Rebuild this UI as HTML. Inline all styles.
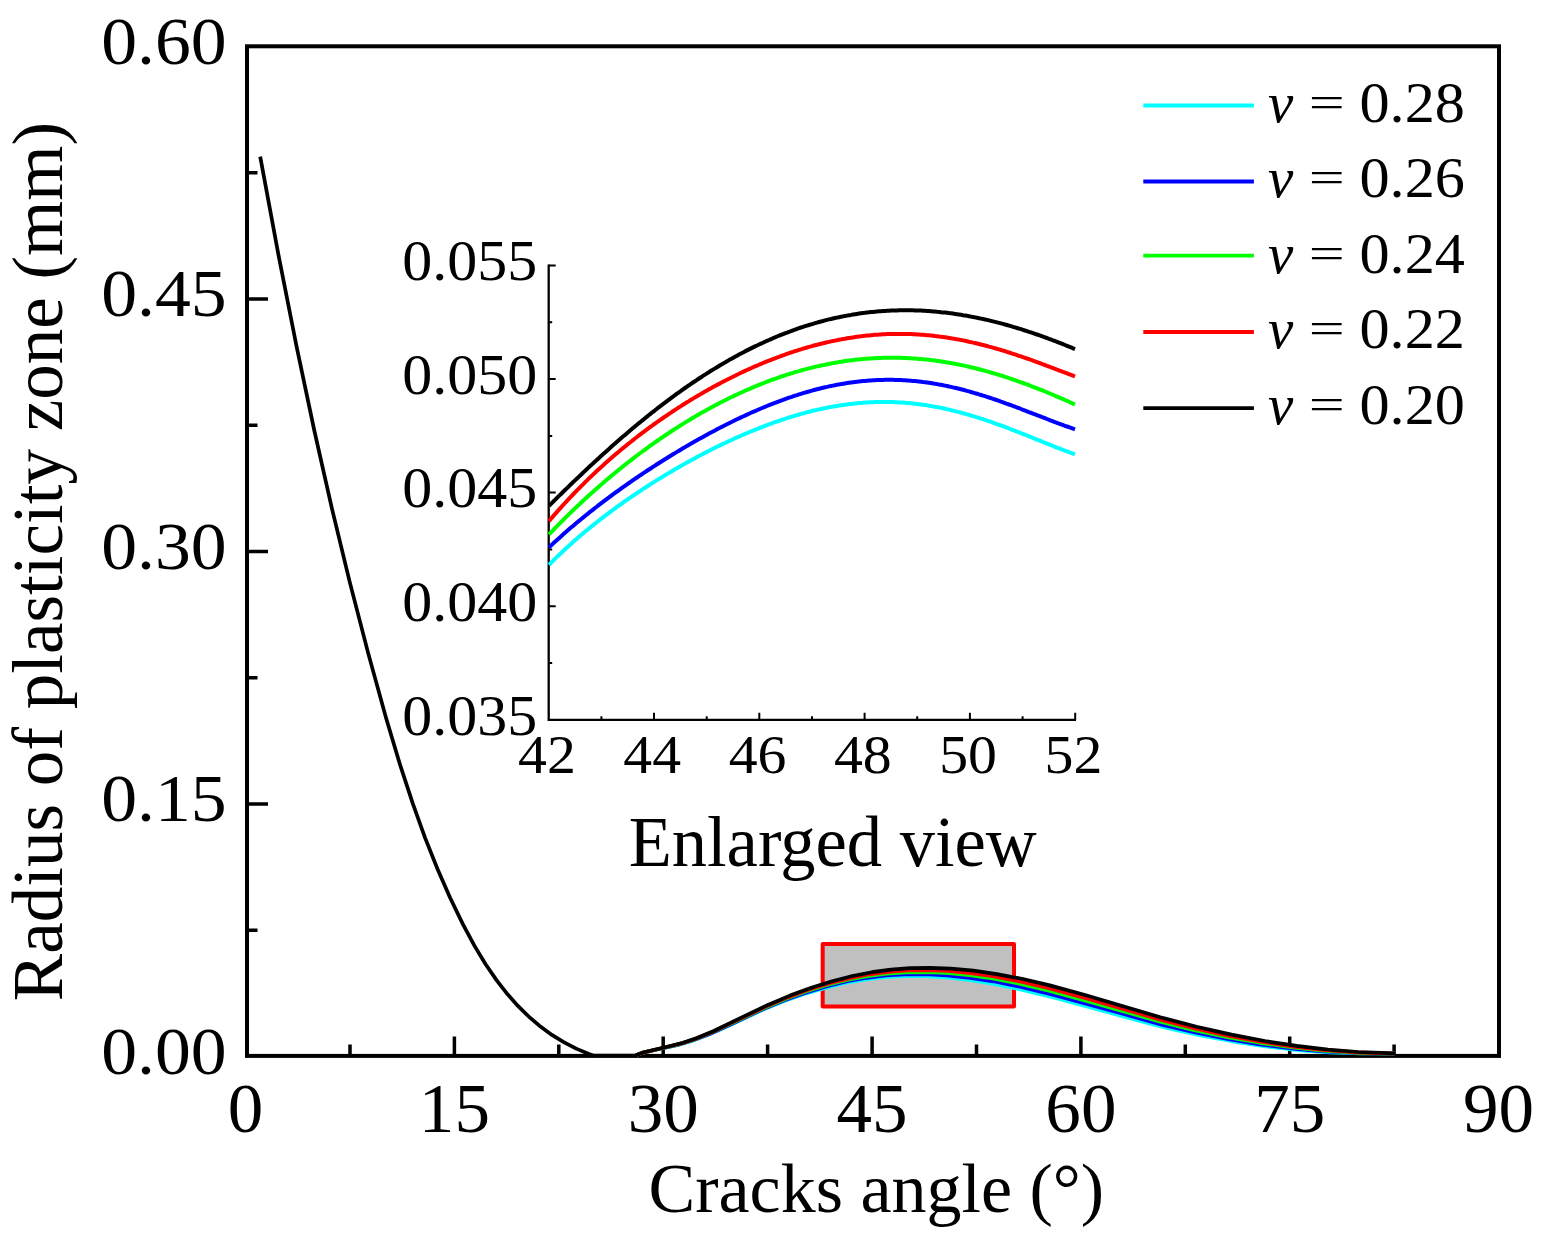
<!DOCTYPE html>
<html><head><meta charset="utf-8"><title>Radius of plasticity zone vs cracks angle</title>
<style>html,body{margin:0;padding:0;background:#fff;overflow:hidden}svg{display:block}</style>
</head><body>
<svg width="1542" height="1241" viewBox="0 0 1542 1241">
<rect width="1542" height="1241" fill="#fff"/>
<g fill="none" stroke="#000" stroke-width="4" stroke-linecap="square">
<rect x="247" y="46.3" width="1252" height="1009.6"/>
</g>
<path d="M350.0 1056.5V1044.5 M454.4 1056.5V1036.5 M558.8 1056.5V1044.5 M663.2 1056.5V1036.5 M767.6 1056.5V1044.5 M872.1 1056.5V1036.5 M976.5 1056.5V1044.5 M1080.9 1056.5V1036.5 M1185.3 1056.5V1044.5 M1289.7 1056.5V1036.5 M1394.1 1056.5V1044.5 M247 930.2H257.5 M247 804.0H268.0 M247 677.8H257.5 M247 551.5H268.0 M247 425.2H257.5 M247 299.0H268.0 M247 172.8H257.5" stroke="#000" stroke-width="3.5" fill="none"/>
<rect x="822.7" y="943.9" width="191.3" height="62.5" fill="#c0c0c0" stroke="#ff0000" stroke-width="4" stroke-linejoin="round"/>
<path d="M635.9 1055.3 L643.2 1052.6 L655.8 1049.7 L678.0 1045.0 L692.1 1040.9 L708.2 1034.8 L730.3 1025.0 L763.3 1009.6 L784.2 1001.1 L805.5 993.6 L826.3 987.6 L846.5 982.8 L866.0 979.4 L884.9 977.2 L903.9 976.2 L924.7 976.2 L945.6 977.4 L969.1 980.0 L992.5 983.6 L1019.2 989.1 L1056.5 998.1 L1137.7 1020.4 L1168.7 1028.5 L1201.7 1035.7 L1234.9 1041.8 L1267.5 1046.6 L1300.3 1050.3 L1329.7 1052.5 L1361.0 1053.5 L1390.6 1053.4 L1395.0 1053.3" fill="none" stroke="#00ffff" stroke-width="3.7" stroke-linejoin="round"/>
<path d="M635.9 1055.3 L643.2 1052.6 L656.7 1049.5 L678.8 1044.6 L692.9 1040.3 L709.0 1034.2 L731.1 1024.2 L763.3 1009.0 L785.0 1000.0 L806.3 992.4 L827.1 986.2 L847.3 981.3 L866.9 977.8 L885.8 975.5 L904.8 974.3 L925.6 974.2 L946.5 975.3 L970.0 977.8 L993.4 981.3 L1020.1 986.7 L1054.8 995.1 L1121.0 1013.3 L1162.8 1024.9 L1194.1 1032.2 L1227.2 1038.9 L1259.8 1044.3 L1293.3 1048.6 L1322.8 1051.3 L1354.0 1053.0 L1383.6 1053.5 L1395.0 1053.3" fill="none" stroke="#0000ff" stroke-width="3.7" stroke-linejoin="round"/>
<path d="M635.9 1055.3 L643.2 1052.6 L658.4 1049.0 L679.6 1044.1 L693.7 1039.8 L709.8 1033.4 L732.7 1022.9 L764.1 1008.0 L785.9 998.8 L807.2 991.1 L827.9 984.8 L848.2 979.7 L867.7 976.1 L886.6 973.6 L905.6 972.3 L925.6 972.1 L946.5 973.0 L969.1 975.1 L992.5 978.5 L1018.3 983.5 L1049.8 990.9 L1089.2 1001.7 L1161.2 1022.0 L1193.2 1029.9 L1227.2 1037.1 L1259.8 1042.8 L1292.5 1047.4 L1322.8 1050.6 L1353.2 1052.6 L1382.8 1053.3 L1395.0 1053.3" fill="none" stroke="#00ff00" stroke-width="3.7" stroke-linejoin="round"/>
<path d="M635.9 1055.3 L643.2 1052.6 L659.3 1048.7 L680.5 1043.7 L694.5 1039.2 L710.6 1032.8 L734.2 1021.7 L764.9 1007.0 L787.5 997.4 L808.8 989.6 L829.6 983.2 L849.9 978.1 L869.4 974.3 L888.3 971.8 L907.4 970.4 L927.3 970.1 L948.2 971.0 L970.9 973.1 L994.3 976.4 L1020.1 981.4 L1049.8 988.4 L1087.6 998.7 L1161.2 1019.9 L1194.9 1028.4 L1228.9 1035.9 L1262.3 1042.0 L1295.1 1046.8 L1325.4 1050.1 L1355.8 1052.3 L1385.4 1053.3 L1395.0 1053.3" fill="none" stroke="#ff0000" stroke-width="3.7" stroke-linejoin="round"/>
<path d="M260.2 156.6 L278.6 255.6 L296.5 346.2 L314.3 430.5 L331.9 508.4 L349.7 581.9 L368.1 652.9 L386.0 717.7 L400.1 764.9 L413.0 804.2 L425.0 837.6 L437.4 868.7 L450.1 897.7 L463.1 924.6 L474.4 945.6 L485.6 964.2 L496.7 980.4 L507.6 994.3 L517.9 1005.9 L529.0 1016.8 L540.8 1026.8 L551.9 1034.9 L563.7 1042.1 L576.2 1048.6 L589.5 1054.2 L593.4 1055.5 L635.9 1055.3 L644.0 1052.3 L666.1 1047.0 L683.0 1042.7 L697.0 1038.0 L713.8 1031.0 L741.3 1017.7 L767.3 1005.2 L789.9 995.6 L811.3 987.7 L832.1 981.2 L852.4 976.0 L872.0 972.2 L890.9 969.6 L910.0 968.2 L930.0 967.9 L950.8 968.7 L973.5 970.7 L996.8 974.1 L1021.8 978.8 L1049.8 985.4 L1085.9 995.3 L1160.3 1017.2 L1196.6 1026.7 L1231.5 1034.6 L1264.9 1041.0 L1296.8 1045.9 L1328.0 1049.6 L1358.4 1052.0 L1388.0 1053.2 L1395.0 1053.3" fill="none" stroke="#000000" stroke-width="3.7" stroke-linejoin="round"/>
<path d="M548.7 264.5V719.8H1076.0" fill="none" stroke="#000" stroke-width="2.3"/>
<path d="M601.4 719.8V716.3 M654.0 719.8V712.8 M706.7 719.8V716.3 M759.3 719.8V712.8 M812.0 719.8V716.3 M864.6 719.8V712.8 M917.2 719.8V716.3 M969.9 719.8V712.8 M1022.6 719.8V716.3 M1075.2 719.8V712.8 M548.7 663.0H552.2 M548.7 606.2H555.7 M548.7 549.4H552.2 M548.7 492.6H555.7 M548.7 435.9H552.2 M548.7 379.1H555.7 M548.7 322.3H552.2 M548.7 265.5H555.7" stroke="#000" stroke-width="2" fill="none"/>
<path d="M549.0 564.8 L551.0 562.8 L553.0 560.8 L555.0 558.8 L557.0 556.9 L559.0 555.0 L561.0 553.1 L563.0 551.2 L565.0 549.3 L567.0 547.5 L569.0 545.7 L571.0 543.9 L573.0 542.1 L575.0 540.3 L577.0 538.6 L579.0 536.8 L581.0 535.1 L583.0 533.4 L585.0 531.8 L587.0 530.1 L589.0 528.5 L591.0 526.8 L593.0 525.2 L595.0 523.6 L597.0 522.0 L599.0 520.5 L601.0 518.9 L603.0 517.4 L605.0 515.8 L607.0 514.3 L609.0 512.8 L611.0 511.3 L613.0 509.8 L615.0 508.4 L617.0 506.9 L619.0 505.5 L621.0 504.1 L623.0 502.6 L625.0 501.2 L627.0 499.8 L629.0 498.4 L631.0 497.1 L633.0 495.7 L635.0 494.4 L637.0 493.0 L639.0 491.7 L641.0 490.4 L643.0 489.1 L645.0 487.7 L647.0 486.5 L649.0 485.2 L651.0 483.9 L653.0 482.6 L655.0 481.4 L657.0 480.1 L659.0 478.9 L661.0 477.7 L663.0 476.5 L665.0 475.3 L667.0 474.1 L669.0 472.9 L671.0 471.7 L673.0 470.5 L675.0 469.3 L677.0 468.2 L679.0 467.0 L681.0 465.9 L683.0 464.8 L685.0 463.6 L687.0 462.5 L689.0 461.4 L691.0 460.3 L693.0 459.2 L695.0 458.2 L697.0 457.1 L699.0 456.0 L701.0 455.0 L703.0 453.9 L705.0 452.9 L707.0 451.9 L709.0 450.8 L711.0 449.8 L713.0 448.8 L715.0 447.8 L717.0 446.8 L719.0 445.9 L721.0 444.9 L723.0 443.9 L725.0 443.0 L727.0 442.0 L729.0 441.1 L731.0 440.2 L733.0 439.2 L735.0 438.3 L737.0 437.4 L739.0 436.6 L741.0 435.7 L743.0 434.8 L745.0 433.9 L747.0 433.1 L749.0 432.2 L751.0 431.4 L753.0 430.6 L755.0 429.8 L757.0 429.0 L759.0 428.2 L761.0 427.4 L763.0 426.6 L765.0 425.9 L767.0 425.1 L769.0 424.4 L771.0 423.6 L773.0 422.9 L775.0 422.2 L777.0 421.5 L779.0 420.8 L781.0 420.1 L783.0 419.5 L785.0 418.8 L787.0 418.2 L789.0 417.5 L791.0 416.9 L793.0 416.3 L795.0 415.7 L797.0 415.1 L799.0 414.5 L801.0 413.9 L803.0 413.4 L805.0 412.9 L807.0 412.3 L809.0 411.8 L811.0 411.3 L813.0 410.8 L815.0 410.3 L817.0 409.9 L819.0 409.4 L821.0 409.0 L823.0 408.5 L825.0 408.1 L827.0 407.7 L829.0 407.3 L831.0 406.9 L833.0 406.6 L835.0 406.2 L837.0 405.9 L839.0 405.6 L841.0 405.2 L843.0 404.9 L845.0 404.7 L847.0 404.4 L849.0 404.1 L851.0 403.9 L853.0 403.7 L855.0 403.5 L857.0 403.3 L859.0 403.1 L861.0 402.9 L863.0 402.7 L865.0 402.6 L867.0 402.5 L869.0 402.3 L871.0 402.2 L873.0 402.2 L875.0 402.1 L877.0 402.0 L879.0 402.0 L881.0 402.0 L883.0 401.9 L885.0 402.0 L887.0 402.0 L889.0 402.0 L891.0 402.0 L893.0 402.1 L895.0 402.2 L897.0 402.3 L899.0 402.4 L901.0 402.5 L903.0 402.6 L905.0 402.8 L907.0 402.9 L909.0 403.1 L911.0 403.3 L913.0 403.5 L915.0 403.7 L917.0 404.0 L919.0 404.2 L921.0 404.5 L923.0 404.8 L925.0 405.0 L927.0 405.3 L929.0 405.7 L931.0 406.0 L933.0 406.4 L935.0 406.7 L937.0 407.1 L939.0 407.5 L941.0 407.9 L943.0 408.3 L945.0 408.7 L947.0 409.2 L949.0 409.6 L951.0 410.1 L953.0 410.6 L955.0 411.1 L957.0 411.6 L959.0 412.1 L961.0 412.6 L963.0 413.2 L965.0 413.7 L967.0 414.3 L969.0 414.9 L971.0 415.5 L973.0 416.1 L975.0 416.7 L977.0 417.3 L979.0 417.9 L981.0 418.6 L983.0 419.2 L985.0 419.9 L987.0 420.6 L989.0 421.2 L991.0 421.9 L993.0 422.6 L995.0 423.3 L997.0 424.1 L999.0 424.8 L1001.0 425.5 L1003.0 426.2 L1005.0 427.0 L1007.0 427.7 L1009.0 428.5 L1011.0 429.3 L1013.0 430.0 L1015.0 430.8 L1017.0 431.6 L1019.0 432.4 L1021.0 433.2 L1023.0 434.0 L1025.0 434.7 L1027.0 435.5 L1029.0 436.3 L1031.0 437.1 L1033.0 438.0 L1035.0 438.8 L1037.0 439.6 L1039.0 440.4 L1041.0 441.2 L1043.0 442.0 L1045.0 442.8 L1047.0 443.6 L1049.0 444.4 L1051.0 445.2 L1053.0 446.0 L1055.0 446.8 L1057.0 447.6 L1059.0 448.3 L1061.0 449.1 L1063.0 449.9 L1065.0 450.6 L1067.0 451.4 L1069.0 452.1 L1071.0 452.9 L1073.0 453.6 L1075.0 454.3" fill="none" stroke="#00ffff" stroke-width="4" stroke-linejoin="round"/>
<path d="M549.0 547.4 L551.0 545.5 L553.0 543.6 L555.0 541.8 L557.0 540.0 L559.0 538.2 L561.0 536.4 L563.0 534.6 L565.0 532.8 L567.0 531.1 L569.0 529.3 L571.0 527.6 L573.0 525.9 L575.0 524.2 L577.0 522.5 L579.0 520.9 L581.0 519.2 L583.0 517.6 L585.0 516.0 L587.0 514.4 L589.0 512.7 L591.0 511.2 L593.0 509.6 L595.0 508.0 L597.0 506.5 L599.0 504.9 L601.0 503.4 L603.0 501.9 L605.0 500.4 L607.0 498.9 L609.0 497.4 L611.0 495.9 L613.0 494.4 L615.0 492.9 L617.0 491.5 L619.0 490.1 L621.0 488.6 L623.0 487.2 L625.0 485.8 L627.0 484.4 L629.0 483.0 L631.0 481.6 L633.0 480.2 L635.0 478.8 L637.0 477.5 L639.0 476.1 L641.0 474.8 L643.0 473.4 L645.0 472.1 L647.0 470.8 L649.0 469.5 L651.0 468.2 L653.0 466.9 L655.0 465.6 L657.0 464.3 L659.0 463.0 L661.0 461.7 L663.0 460.5 L665.0 459.2 L667.0 458.0 L669.0 456.7 L671.0 455.5 L673.0 454.3 L675.0 453.1 L677.0 451.9 L679.0 450.7 L681.0 449.5 L683.0 448.3 L685.0 447.1 L687.0 445.9 L689.0 444.8 L691.0 443.6 L693.0 442.5 L695.0 441.3 L697.0 440.2 L699.0 439.1 L701.0 438.0 L703.0 436.9 L705.0 435.8 L707.0 434.7 L709.0 433.6 L711.0 432.5 L713.0 431.5 L715.0 430.4 L717.0 429.3 L719.0 428.3 L721.0 427.3 L723.0 426.2 L725.0 425.2 L727.0 424.2 L729.0 423.2 L731.0 422.2 L733.0 421.3 L735.0 420.3 L737.0 419.3 L739.0 418.4 L741.0 417.4 L743.0 416.5 L745.0 415.6 L747.0 414.6 L749.0 413.7 L751.0 412.8 L753.0 411.9 L755.0 411.1 L757.0 410.2 L759.0 409.3 L761.0 408.5 L763.0 407.7 L765.0 406.8 L767.0 406.0 L769.0 405.2 L771.0 404.4 L773.0 403.6 L775.0 402.9 L777.0 402.1 L779.0 401.3 L781.0 400.6 L783.0 399.9 L785.0 399.1 L787.0 398.4 L789.0 397.7 L791.0 397.1 L793.0 396.4 L795.0 395.7 L797.0 395.1 L799.0 394.4 L801.0 393.8 L803.0 393.2 L805.0 392.6 L807.0 392.0 L809.0 391.5 L811.0 390.9 L813.0 390.3 L815.0 389.8 L817.0 389.3 L819.0 388.8 L821.0 388.3 L823.0 387.8 L825.0 387.3 L827.0 386.9 L829.0 386.4 L831.0 386.0 L833.0 385.6 L835.0 385.2 L837.0 384.8 L839.0 384.4 L841.0 384.1 L843.0 383.7 L845.0 383.4 L847.0 383.1 L849.0 382.8 L851.0 382.5 L853.0 382.2 L855.0 381.9 L857.0 381.7 L859.0 381.5 L861.0 381.3 L863.0 381.1 L865.0 380.9 L867.0 380.7 L869.0 380.5 L871.0 380.4 L873.0 380.3 L875.0 380.2 L877.0 380.1 L879.0 380.0 L881.0 379.9 L883.0 379.9 L885.0 379.8 L887.0 379.8 L889.0 379.8 L891.0 379.8 L893.0 379.8 L895.0 379.9 L897.0 379.9 L899.0 380.0 L901.0 380.1 L903.0 380.2 L905.0 380.3 L907.0 380.4 L909.0 380.6 L911.0 380.7 L913.0 380.9 L915.0 381.1 L917.0 381.3 L919.0 381.5 L921.0 381.7 L923.0 382.0 L925.0 382.2 L927.0 382.5 L929.0 382.8 L931.0 383.1 L933.0 383.4 L935.0 383.8 L937.0 384.1 L939.0 384.5 L941.0 384.8 L943.0 385.2 L945.0 385.6 L947.0 386.0 L949.0 386.5 L951.0 386.9 L953.0 387.4 L955.0 387.8 L957.0 388.3 L959.0 388.8 L961.0 389.3 L963.0 389.8 L965.0 390.3 L967.0 390.9 L969.0 391.4 L971.0 392.0 L973.0 392.6 L975.0 393.2 L977.0 393.7 L979.0 394.4 L981.0 395.0 L983.0 395.6 L985.0 396.2 L987.0 396.9 L989.0 397.5 L991.0 398.2 L993.0 398.9 L995.0 399.5 L997.0 400.2 L999.0 400.9 L1001.0 401.6 L1003.0 402.3 L1005.0 403.1 L1007.0 403.8 L1009.0 404.5 L1011.0 405.2 L1013.0 406.0 L1015.0 406.7 L1017.0 407.5 L1019.0 408.2 L1021.0 409.0 L1023.0 409.8 L1025.0 410.5 L1027.0 411.3 L1029.0 412.1 L1031.0 412.8 L1033.0 413.6 L1035.0 414.4 L1037.0 415.2 L1039.0 415.9 L1041.0 416.7 L1043.0 417.5 L1045.0 418.2 L1047.0 419.0 L1049.0 419.8 L1051.0 420.6 L1053.0 421.3 L1055.0 422.1 L1057.0 422.8 L1059.0 423.6 L1061.0 424.3 L1063.0 425.0 L1065.0 425.8 L1067.0 426.5 L1069.0 427.2 L1071.0 427.9 L1073.0 428.6 L1075.0 429.3" fill="none" stroke="#0000ff" stroke-width="4" stroke-linejoin="round"/>
<path d="M549.0 534.4 L551.0 532.3 L553.0 530.3 L555.0 528.2 L557.0 526.1 L559.0 524.1 L561.0 522.1 L563.0 520.1 L565.0 518.1 L567.0 516.1 L569.0 514.2 L571.0 512.2 L573.0 510.3 L575.0 508.4 L577.0 506.5 L579.0 504.6 L581.0 502.7 L583.0 500.8 L585.0 499.0 L587.0 497.2 L589.0 495.3 L591.0 493.5 L593.0 491.7 L595.0 490.0 L597.0 488.2 L599.0 486.4 L601.0 484.7 L603.0 483.0 L605.0 481.2 L607.0 479.5 L609.0 477.9 L611.0 476.2 L613.0 474.5 L615.0 472.9 L617.0 471.2 L619.0 469.6 L621.0 468.0 L623.0 466.4 L625.0 464.8 L627.0 463.2 L629.0 461.7 L631.0 460.1 L633.0 458.6 L635.0 457.0 L637.0 455.5 L639.0 454.0 L641.0 452.5 L643.0 451.0 L645.0 449.6 L647.0 448.1 L649.0 446.7 L651.0 445.2 L653.0 443.8 L655.0 442.4 L657.0 441.0 L659.0 439.6 L661.0 438.2 L663.0 436.9 L665.0 435.5 L667.0 434.2 L669.0 432.9 L671.0 431.5 L673.0 430.2 L675.0 428.9 L677.0 427.7 L679.0 426.4 L681.0 425.1 L683.0 423.9 L685.0 422.6 L687.0 421.4 L689.0 420.2 L691.0 419.0 L693.0 417.8 L695.0 416.6 L697.0 415.5 L699.0 414.3 L701.0 413.1 L703.0 412.0 L705.0 410.9 L707.0 409.8 L709.0 408.7 L711.0 407.6 L713.0 406.5 L715.0 405.4 L717.0 404.4 L719.0 403.3 L721.0 402.3 L723.0 401.3 L725.0 400.3 L727.0 399.3 L729.0 398.3 L731.0 397.3 L733.0 396.4 L735.0 395.4 L737.0 394.5 L739.0 393.5 L741.0 392.6 L743.0 391.7 L745.0 390.8 L747.0 389.9 L749.0 389.1 L751.0 388.2 L753.0 387.4 L755.0 386.5 L757.0 385.7 L759.0 384.9 L761.0 384.1 L763.0 383.3 L765.0 382.5 L767.0 381.7 L769.0 381.0 L771.0 380.2 L773.0 379.5 L775.0 378.8 L777.0 378.1 L779.0 377.4 L781.0 376.7 L783.0 376.0 L785.0 375.4 L787.0 374.7 L789.0 374.1 L791.0 373.4 L793.0 372.8 L795.0 372.2 L797.0 371.6 L799.0 371.1 L801.0 370.5 L803.0 369.9 L805.0 369.4 L807.0 368.9 L809.0 368.4 L811.0 367.9 L813.0 367.4 L815.0 366.9 L817.0 366.4 L819.0 366.0 L821.0 365.5 L823.0 365.1 L825.0 364.7 L827.0 364.2 L829.0 363.9 L831.0 363.5 L833.0 363.1 L835.0 362.7 L837.0 362.4 L839.0 362.1 L841.0 361.7 L843.0 361.4 L845.0 361.1 L847.0 360.8 L849.0 360.6 L851.0 360.3 L853.0 360.1 L855.0 359.8 L857.0 359.6 L859.0 359.4 L861.0 359.2 L863.0 359.0 L865.0 358.8 L867.0 358.7 L869.0 358.5 L871.0 358.4 L873.0 358.3 L875.0 358.2 L877.0 358.1 L879.0 358.0 L881.0 357.9 L883.0 357.8 L885.0 357.8 L887.0 357.8 L889.0 357.7 L891.0 357.7 L893.0 357.7 L895.0 357.7 L897.0 357.8 L899.0 357.8 L901.0 357.8 L903.0 357.9 L905.0 358.0 L907.0 358.1 L909.0 358.2 L911.0 358.3 L913.0 358.4 L915.0 358.5 L917.0 358.7 L919.0 358.9 L921.0 359.0 L923.0 359.2 L925.0 359.4 L927.0 359.6 L929.0 359.8 L931.0 360.1 L933.0 360.3 L935.0 360.6 L937.0 360.9 L939.0 361.1 L941.0 361.4 L943.0 361.7 L945.0 362.1 L947.0 362.4 L949.0 362.7 L951.0 363.1 L953.0 363.4 L955.0 363.8 L957.0 364.2 L959.0 364.6 L961.0 365.0 L963.0 365.4 L965.0 365.9 L967.0 366.3 L969.0 366.8 L971.0 367.2 L973.0 367.7 L975.0 368.2 L977.0 368.7 L979.0 369.2 L981.0 369.7 L983.0 370.3 L985.0 370.8 L987.0 371.4 L989.0 371.9 L991.0 372.5 L993.0 373.1 L995.0 373.7 L997.0 374.3 L999.0 374.9 L1001.0 375.5 L1003.0 376.1 L1005.0 376.8 L1007.0 377.4 L1009.0 378.1 L1011.0 378.8 L1013.0 379.5 L1015.0 380.1 L1017.0 380.8 L1019.0 381.6 L1021.0 382.3 L1023.0 383.0 L1025.0 383.7 L1027.0 384.5 L1029.0 385.2 L1031.0 386.0 L1033.0 386.8 L1035.0 387.5 L1037.0 388.3 L1039.0 389.1 L1041.0 389.9 L1043.0 390.7 L1045.0 391.5 L1047.0 392.3 L1049.0 393.2 L1051.0 394.0 L1053.0 394.8 L1055.0 395.7 L1057.0 396.6 L1059.0 397.4 L1061.0 398.3 L1063.0 399.1 L1065.0 400.0 L1067.0 400.9 L1069.0 401.8 L1071.0 402.7 L1073.0 403.6 L1075.0 404.5" fill="none" stroke="#00ff00" stroke-width="4" stroke-linejoin="round"/>
<path d="M549.0 521.1 L551.0 518.8 L553.0 516.4 L555.0 514.1 L557.0 511.9 L559.0 509.6 L561.0 507.4 L563.0 505.2 L565.0 503.0 L567.0 500.8 L569.0 498.7 L571.0 496.6 L573.0 494.5 L575.0 492.4 L577.0 490.3 L579.0 488.3 L581.0 486.3 L583.0 484.3 L585.0 482.3 L587.0 480.4 L589.0 478.4 L591.0 476.5 L593.0 474.6 L595.0 472.7 L597.0 470.8 L599.0 469.0 L601.0 467.2 L603.0 465.4 L605.0 463.6 L607.0 461.8 L609.0 460.0 L611.0 458.3 L613.0 456.5 L615.0 454.8 L617.0 453.1 L619.0 451.5 L621.0 449.8 L623.0 448.1 L625.0 446.5 L627.0 444.9 L629.0 443.3 L631.0 441.7 L633.0 440.1 L635.0 438.5 L637.0 437.0 L639.0 435.4 L641.0 433.9 L643.0 432.4 L645.0 430.9 L647.0 429.4 L649.0 427.9 L651.0 426.5 L653.0 425.0 L655.0 423.6 L657.0 422.2 L659.0 420.8 L661.0 419.4 L663.0 418.0 L665.0 416.6 L667.0 415.3 L669.0 413.9 L671.0 412.6 L673.0 411.2 L675.0 409.9 L677.0 408.6 L679.0 407.3 L681.0 406.1 L683.0 404.8 L685.0 403.5 L687.0 402.3 L689.0 401.1 L691.0 399.8 L693.0 398.6 L695.0 397.4 L697.0 396.2 L699.0 395.1 L701.0 393.9 L703.0 392.7 L705.0 391.6 L707.0 390.5 L709.0 389.3 L711.0 388.2 L713.0 387.1 L715.0 386.0 L717.0 384.9 L719.0 383.9 L721.0 382.8 L723.0 381.8 L725.0 380.7 L727.0 379.7 L729.0 378.7 L731.0 377.7 L733.0 376.7 L735.0 375.7 L737.0 374.7 L739.0 373.8 L741.0 372.8 L743.0 371.9 L745.0 370.9 L747.0 370.0 L749.0 369.1 L751.0 368.2 L753.0 367.3 L755.0 366.4 L757.0 365.6 L759.0 364.7 L761.0 363.9 L763.0 363.0 L765.0 362.2 L767.0 361.4 L769.0 360.6 L771.0 359.8 L773.0 359.0 L775.0 358.3 L777.0 357.5 L779.0 356.8 L781.0 356.0 L783.0 355.3 L785.0 354.6 L787.0 353.9 L789.0 353.2 L791.0 352.5 L793.0 351.9 L795.0 351.2 L797.0 350.6 L799.0 349.9 L801.0 349.3 L803.0 348.7 L805.0 348.1 L807.0 347.5 L809.0 346.9 L811.0 346.4 L813.0 345.8 L815.0 345.3 L817.0 344.8 L819.0 344.2 L821.0 343.7 L823.0 343.3 L825.0 342.8 L827.0 342.3 L829.0 341.9 L831.0 341.4 L833.0 341.0 L835.0 340.6 L837.0 340.2 L839.0 339.8 L841.0 339.4 L843.0 339.0 L845.0 338.7 L847.0 338.3 L849.0 338.0 L851.0 337.7 L853.0 337.4 L855.0 337.1 L857.0 336.8 L859.0 336.5 L861.0 336.3 L863.0 336.0 L865.0 335.8 L867.0 335.6 L869.0 335.4 L871.0 335.2 L873.0 335.0 L875.0 334.8 L877.0 334.7 L879.0 334.6 L881.0 334.4 L883.0 334.3 L885.0 334.2 L887.0 334.1 L889.0 334.1 L891.0 334.0 L893.0 334.0 L895.0 333.9 L897.0 333.9 L899.0 333.9 L901.0 333.9 L903.0 333.9 L905.0 333.9 L907.0 334.0 L909.0 334.0 L911.0 334.1 L913.0 334.2 L915.0 334.3 L917.0 334.4 L919.0 334.5 L921.0 334.7 L923.0 334.8 L925.0 335.0 L927.0 335.2 L929.0 335.3 L931.0 335.5 L933.0 335.7 L935.0 336.0 L937.0 336.2 L939.0 336.5 L941.0 336.7 L943.0 337.0 L945.0 337.3 L947.0 337.6 L949.0 337.9 L951.0 338.2 L953.0 338.6 L955.0 338.9 L957.0 339.3 L959.0 339.6 L961.0 340.0 L963.0 340.4 L965.0 340.8 L967.0 341.2 L969.0 341.7 L971.0 342.1 L973.0 342.6 L975.0 343.0 L977.0 343.5 L979.0 344.0 L981.0 344.5 L983.0 345.0 L985.0 345.5 L987.0 346.0 L989.0 346.6 L991.0 347.1 L993.0 347.7 L995.0 348.3 L997.0 348.8 L999.0 349.4 L1001.0 350.0 L1003.0 350.6 L1005.0 351.2 L1007.0 351.9 L1009.0 352.5 L1011.0 353.1 L1013.0 353.8 L1015.0 354.4 L1017.0 355.1 L1019.0 355.8 L1021.0 356.4 L1023.0 357.1 L1025.0 357.8 L1027.0 358.5 L1029.0 359.2 L1031.0 359.9 L1033.0 360.6 L1035.0 361.4 L1037.0 362.1 L1039.0 362.8 L1041.0 363.5 L1043.0 364.3 L1045.0 365.0 L1047.0 365.8 L1049.0 366.5 L1051.0 367.3 L1053.0 368.0 L1055.0 368.8 L1057.0 369.6 L1059.0 370.3 L1061.0 371.1 L1063.0 371.9 L1065.0 372.6 L1067.0 373.4 L1069.0 374.2 L1071.0 374.9 L1073.0 375.7 L1075.0 376.5" fill="none" stroke="#ff0000" stroke-width="4" stroke-linejoin="round"/>
<path d="M549.0 505.8 L551.0 503.8 L553.0 501.8 L555.0 499.9 L557.0 497.9 L559.0 495.9 L561.0 494.0 L563.0 492.0 L565.0 490.0 L567.0 488.1 L569.0 486.2 L571.0 484.2 L573.0 482.3 L575.0 480.4 L577.0 478.5 L579.0 476.6 L581.0 474.7 L583.0 472.8 L585.0 470.9 L587.0 469.0 L589.0 467.1 L591.0 465.3 L593.0 463.4 L595.0 461.6 L597.0 459.7 L599.0 457.9 L601.0 456.1 L603.0 454.3 L605.0 452.5 L607.0 450.7 L609.0 448.9 L611.0 447.1 L613.0 445.3 L615.0 443.6 L617.0 441.8 L619.0 440.1 L621.0 438.3 L623.0 436.6 L625.0 434.9 L627.0 433.2 L629.0 431.5 L631.0 429.8 L633.0 428.1 L635.0 426.4 L637.0 424.8 L639.0 423.1 L641.0 421.5 L643.0 419.9 L645.0 418.2 L647.0 416.6 L649.0 415.0 L651.0 413.4 L653.0 411.8 L655.0 410.3 L657.0 408.7 L659.0 407.2 L661.0 405.6 L663.0 404.1 L665.0 402.6 L667.0 401.1 L669.0 399.6 L671.0 398.1 L673.0 396.6 L675.0 395.2 L677.0 393.7 L679.0 392.3 L681.0 390.9 L683.0 389.4 L685.0 388.0 L687.0 386.6 L689.0 385.3 L691.0 383.9 L693.0 382.5 L695.0 381.2 L697.0 379.9 L699.0 378.5 L701.0 377.2 L703.0 375.9 L705.0 374.6 L707.0 373.4 L709.0 372.1 L711.0 370.8 L713.0 369.6 L715.0 368.4 L717.0 367.2 L719.0 366.0 L721.0 364.8 L723.0 363.6 L725.0 362.4 L727.0 361.3 L729.0 360.1 L731.0 359.0 L733.0 357.9 L735.0 356.8 L737.0 355.7 L739.0 354.6 L741.0 353.5 L743.0 352.5 L745.0 351.4 L747.0 350.4 L749.0 349.4 L751.0 348.4 L753.0 347.4 L755.0 346.4 L757.0 345.5 L759.0 344.5 L761.0 343.6 L763.0 342.7 L765.0 341.7 L767.0 340.8 L769.0 340.0 L771.0 339.1 L773.0 338.2 L775.0 337.4 L777.0 336.5 L779.0 335.7 L781.0 334.9 L783.0 334.1 L785.0 333.3 L787.0 332.6 L789.0 331.8 L791.0 331.1 L793.0 330.3 L795.0 329.6 L797.0 328.9 L799.0 328.2 L801.0 327.5 L803.0 326.9 L805.0 326.2 L807.0 325.6 L809.0 325.0 L811.0 324.4 L813.0 323.8 L815.0 323.2 L817.0 322.6 L819.0 322.0 L821.0 321.5 L823.0 321.0 L825.0 320.4 L827.0 319.9 L829.0 319.4 L831.0 319.0 L833.0 318.5 L835.0 318.0 L837.0 317.6 L839.0 317.2 L841.0 316.8 L843.0 316.4 L845.0 316.0 L847.0 315.6 L849.0 315.2 L851.0 314.9 L853.0 314.5 L855.0 314.2 L857.0 313.9 L859.0 313.6 L861.0 313.3 L863.0 313.0 L865.0 312.8 L867.0 312.5 L869.0 312.3 L871.0 312.1 L873.0 311.9 L875.0 311.7 L877.0 311.5 L879.0 311.3 L881.0 311.2 L883.0 311.0 L885.0 310.9 L887.0 310.8 L889.0 310.7 L891.0 310.6 L893.0 310.5 L895.0 310.4 L897.0 310.4 L899.0 310.3 L901.0 310.3 L903.0 310.3 L905.0 310.2 L907.0 310.3 L909.0 310.3 L911.0 310.3 L913.0 310.3 L915.0 310.4 L917.0 310.5 L919.0 310.5 L921.0 310.6 L923.0 310.7 L925.0 310.8 L927.0 311.0 L929.0 311.1 L931.0 311.2 L933.0 311.4 L935.0 311.6 L937.0 311.8 L939.0 311.9 L941.0 312.2 L943.0 312.4 L945.0 312.6 L947.0 312.8 L949.0 313.1 L951.0 313.3 L953.0 313.6 L955.0 313.9 L957.0 314.2 L959.0 314.5 L961.0 314.8 L963.0 315.2 L965.0 315.5 L967.0 315.8 L969.0 316.2 L971.0 316.6 L973.0 317.0 L975.0 317.4 L977.0 317.8 L979.0 318.2 L981.0 318.6 L983.0 319.0 L985.0 319.5 L987.0 319.9 L989.0 320.4 L991.0 320.9 L993.0 321.4 L995.0 321.9 L997.0 322.4 L999.0 322.9 L1001.0 323.4 L1003.0 323.9 L1005.0 324.5 L1007.0 325.0 L1009.0 325.6 L1011.0 326.2 L1013.0 326.8 L1015.0 327.4 L1017.0 328.0 L1019.0 328.6 L1021.0 329.2 L1023.0 329.8 L1025.0 330.5 L1027.0 331.1 L1029.0 331.8 L1031.0 332.4 L1033.0 333.1 L1035.0 333.8 L1037.0 334.5 L1039.0 335.2 L1041.0 335.9 L1043.0 336.6 L1045.0 337.3 L1047.0 338.0 L1049.0 338.8 L1051.0 339.5 L1053.0 340.3 L1055.0 341.0 L1057.0 341.8 L1059.0 342.6 L1061.0 343.4 L1063.0 344.2 L1065.0 345.0 L1067.0 345.8 L1069.0 346.6 L1071.0 347.4 L1073.0 348.3 L1075.0 349.1" fill="none" stroke="#000000" stroke-width="4" stroke-linejoin="round"/>
<text transform="translate(226.7,1073.7) scale(1.055,1)" text-anchor="end" style="font-family:'Liberation Serif','Times New Roman',serif;font-size:68px" >0.00</text>
<text transform="translate(226.7,821.2) scale(1.055,1)" text-anchor="end" style="font-family:'Liberation Serif','Times New Roman',serif;font-size:68px" >0.15</text>
<text transform="translate(226.7,568.7) scale(1.055,1)" text-anchor="end" style="font-family:'Liberation Serif','Times New Roman',serif;font-size:68px" >0.30</text>
<text transform="translate(226.7,316.2) scale(1.055,1)" text-anchor="end" style="font-family:'Liberation Serif','Times New Roman',serif;font-size:68px" >0.45</text>
<text transform="translate(226.7,63.7) scale(1.055,1)" text-anchor="end" style="font-family:'Liberation Serif','Times New Roman',serif;font-size:68px" >0.60</text>
<text transform="translate(245.6,1131.6) scale(1.03,1)" text-anchor="middle" style="font-family:'Liberation Serif','Times New Roman',serif;font-size:69px" >0</text>
<text transform="translate(454.4,1131.6) scale(1.03,1)" text-anchor="middle" style="font-family:'Liberation Serif','Times New Roman',serif;font-size:69px" >15</text>
<text transform="translate(663.2,1131.6) scale(1.03,1)" text-anchor="middle" style="font-family:'Liberation Serif','Times New Roman',serif;font-size:69px" >30</text>
<text transform="translate(872.1,1131.6) scale(1.03,1)" text-anchor="middle" style="font-family:'Liberation Serif','Times New Roman',serif;font-size:69px" >45</text>
<text transform="translate(1080.9,1131.6) scale(1.03,1)" text-anchor="middle" style="font-family:'Liberation Serif','Times New Roman',serif;font-size:69px" >60</text>
<text transform="translate(1289.7,1131.6) scale(1.03,1)" text-anchor="middle" style="font-family:'Liberation Serif','Times New Roman',serif;font-size:69px" >75</text>
<text transform="translate(1498.5,1131.6) scale(1.03,1)" text-anchor="middle" style="font-family:'Liberation Serif','Times New Roman',serif;font-size:69px" >90</text>
<text transform="translate(876.3,1212.0) scale(1.0,1)" text-anchor="middle" style="font-family:'Liberation Serif','Times New Roman',serif;font-size:70px" >Cracks angle (°)</text>
<text transform="translate(61.5,561.5) rotate(-90)" text-anchor="middle" style="font-family:'Liberation Serif','Times New Roman',serif;font-size:71px">Radius of plasticity zone (mm)</text>
<text transform="translate(537.2,734.6) scale(1.062,1)" text-anchor="end" style="font-family:'Liberation Serif','Times New Roman',serif;font-size:56.5px" >0.035</text>
<text transform="translate(537.2,621.0) scale(1.062,1)" text-anchor="end" style="font-family:'Liberation Serif','Times New Roman',serif;font-size:56.5px" >0.040</text>
<text transform="translate(537.2,507.4) scale(1.062,1)" text-anchor="end" style="font-family:'Liberation Serif','Times New Roman',serif;font-size:56.5px" >0.045</text>
<text transform="translate(537.2,393.9) scale(1.062,1)" text-anchor="end" style="font-family:'Liberation Serif','Times New Roman',serif;font-size:56.5px" >0.050</text>
<text transform="translate(537.2,280.3) scale(1.062,1)" text-anchor="end" style="font-family:'Liberation Serif','Times New Roman',serif;font-size:56.5px" >0.055</text>
<text transform="translate(546.9,772.8) scale(1.05,1)" text-anchor="middle" style="font-family:'Liberation Serif','Times New Roman',serif;font-size:55px" >42</text>
<text transform="translate(652.2,772.8) scale(1.05,1)" text-anchor="middle" style="font-family:'Liberation Serif','Times New Roman',serif;font-size:55px" >44</text>
<text transform="translate(757.5,772.8) scale(1.05,1)" text-anchor="middle" style="font-family:'Liberation Serif','Times New Roman',serif;font-size:55px" >46</text>
<text transform="translate(862.8,772.8) scale(1.05,1)" text-anchor="middle" style="font-family:'Liberation Serif','Times New Roman',serif;font-size:55px" >48</text>
<text transform="translate(968.1,772.8) scale(1.05,1)" text-anchor="middle" style="font-family:'Liberation Serif','Times New Roman',serif;font-size:55px" >50</text>
<text transform="translate(1073.4,772.8) scale(1.05,1)" text-anchor="middle" style="font-family:'Liberation Serif','Times New Roman',serif;font-size:55px" >52</text>
<text transform="translate(832.7,865.5) scale(0.987,1)" text-anchor="middle" style="font-family:'Liberation Serif','Times New Roman',serif;font-size:71.5px" >Enlarged view</text>
<path d="M1143.3 105.5H1253.9" stroke="#00ffff" stroke-width="3.8"/>
<text transform="translate(1268.1,122.3) scale(1.0,1)" text-anchor="start" style="font-family:'Liberation Serif','Times New Roman',serif;font-size:57px;font-style:italic" >v</text>
<text transform="translate(1326.7,117.3) scale(1.12,0.79)" text-anchor="middle" style="font-family:'Liberation Serif','Times New Roman',serif;font-size:57px">=</text>
<text transform="translate(1412.2,122.3) scale(1.057,1)" text-anchor="middle" style="font-family:'Liberation Serif','Times New Roman',serif;font-size:57px" >0.28</text>
<path d="M1143.3 181.5H1253.9" stroke="#0000ff" stroke-width="3.8"/>
<text transform="translate(1268.1,196.5) scale(1.0,1)" text-anchor="start" style="font-family:'Liberation Serif','Times New Roman',serif;font-size:57px;font-style:italic" >v</text>
<text transform="translate(1326.7,191.5) scale(1.12,0.79)" text-anchor="middle" style="font-family:'Liberation Serif','Times New Roman',serif;font-size:57px">=</text>
<text transform="translate(1412.2,196.5) scale(1.057,1)" text-anchor="middle" style="font-family:'Liberation Serif','Times New Roman',serif;font-size:57px" >0.26</text>
<path d="M1143.3 255.7H1253.9" stroke="#00ff00" stroke-width="3.8"/>
<text transform="translate(1268.1,272.7) scale(1.0,1)" text-anchor="start" style="font-family:'Liberation Serif','Times New Roman',serif;font-size:57px;font-style:italic" >v</text>
<text transform="translate(1326.7,267.7) scale(1.12,0.79)" text-anchor="middle" style="font-family:'Liberation Serif','Times New Roman',serif;font-size:57px">=</text>
<text transform="translate(1412.2,272.7) scale(1.057,1)" text-anchor="middle" style="font-family:'Liberation Serif','Times New Roman',serif;font-size:57px" >0.24</text>
<path d="M1143.3 332.0H1253.9" stroke="#ff0000" stroke-width="3.8"/>
<text transform="translate(1268.1,348.3) scale(1.0,1)" text-anchor="start" style="font-family:'Liberation Serif','Times New Roman',serif;font-size:57px;font-style:italic" >v</text>
<text transform="translate(1326.7,343.3) scale(1.12,0.79)" text-anchor="middle" style="font-family:'Liberation Serif','Times New Roman',serif;font-size:57px">=</text>
<text transform="translate(1412.2,348.3) scale(1.057,1)" text-anchor="middle" style="font-family:'Liberation Serif','Times New Roman',serif;font-size:57px" >0.22</text>
<path d="M1143.3 408.2H1253.9" stroke="#000000" stroke-width="3.8"/>
<text transform="translate(1268.1,423.6) scale(1.0,1)" text-anchor="start" style="font-family:'Liberation Serif','Times New Roman',serif;font-size:57px;font-style:italic" >v</text>
<text transform="translate(1326.7,418.6) scale(1.12,0.79)" text-anchor="middle" style="font-family:'Liberation Serif','Times New Roman',serif;font-size:57px">=</text>
<text transform="translate(1412.2,423.6) scale(1.057,1)" text-anchor="middle" style="font-family:'Liberation Serif','Times New Roman',serif;font-size:57px" >0.20</text>
</svg>
</body></html>
